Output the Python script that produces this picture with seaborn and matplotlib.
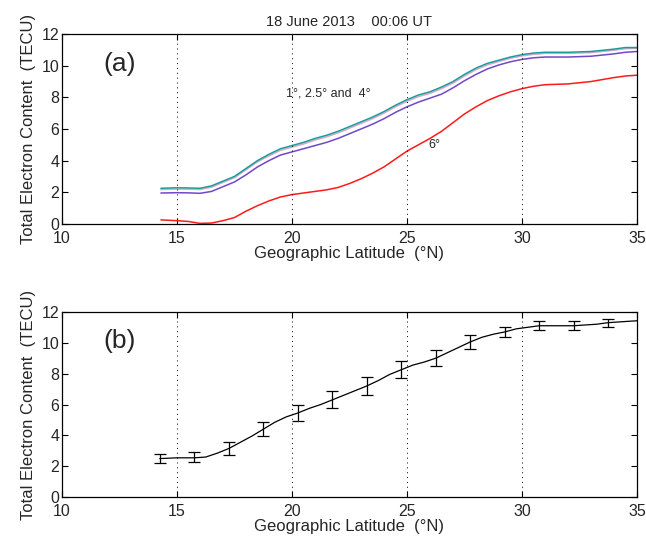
import numpy as np
import pandas as pd
import matplotlib
matplotlib.use('Agg')
import matplotlib.pyplot as plt
import seaborn as sns

# panel (a): TEC along latitude for four elevation cut-offs
lat_a = [14.3, 15.0, 15.5, 16.0, 16.5, 17.0, 17.5, 18.0, 18.5, 19.0, 19.5, 20.0,
         20.5, 21.0, 21.5, 22.0, 22.5, 23.0, 23.5, 24.0, 24.5, 25.0, 25.5, 26.0,
         26.5, 27.0, 27.5, 28.0, 28.5, 29.0, 29.5, 30.0, 30.5, 31.0, 32.0, 33.0,
         34.0, 34.5, 35.0]
tec_1 = [2.25, 2.28, 2.27, 2.25, 2.4, 2.7, 3.0, 3.5, 4.0, 4.4, 4.75, 4.95,
         5.15, 5.4, 5.6, 5.85, 6.15, 6.45, 6.75, 7.1, 7.5, 7.85, 8.15, 8.35,
         8.65, 9.0, 9.45, 9.85, 10.15, 10.35, 10.55, 10.7, 10.8, 10.85, 10.85, 10.9,
         11.05, 11.15, 11.15]
tec_25 = [2.17, 2.2, 2.19, 2.17, 2.32, 2.62, 2.92, 3.42, 3.92, 4.3, 4.65, 4.85,
          5.05, 5.3, 5.5, 5.75, 6.05, 6.35, 6.65, 7.0, 7.4, 7.75, 8.05, 8.25,
          8.55, 8.9, 9.35, 9.75, 10.05, 10.27, 10.47, 10.62, 10.72, 10.78, 10.78, 10.83,
          10.98, 11.08, 11.1]
tec_4 = [1.95, 1.97, 1.96, 1.93, 2.05, 2.35, 2.65, 3.1, 3.6, 4.0, 4.35, 4.55,
         4.75, 4.95, 5.15, 5.4, 5.7, 6.0, 6.3, 6.65, 7.05, 7.4, 7.7, 7.95,
         8.2, 8.6, 9.05, 9.45, 9.8, 10.05, 10.25, 10.4, 10.5, 10.55, 10.55, 10.6,
         10.75, 10.85, 10.9]
tec_6 = [0.25, 0.2, 0.15, 0.03, 0.05, 0.2, 0.4, 0.8, 1.15, 1.45, 1.7, 1.85,
         1.95, 2.05, 2.15, 2.3, 2.55, 2.85, 3.2, 3.6, 4.1, 4.6, 5.0, 5.4,
         5.85, 6.4, 6.95, 7.4, 7.8, 8.1, 8.35, 8.55, 8.7, 8.8, 8.85, 9.0,
         9.25, 9.35, 9.4]

# panel (b): mean TEC with error bars
lat_b = [14.25, 15.0, 15.75, 16.25, 16.75, 17.25, 17.75, 18.25, 18.75, 19.25,
         19.75, 20.25, 20.75, 21.25, 21.75, 22.25, 22.75, 23.25, 23.75, 24.25,
         24.75, 25.25, 25.75, 26.25, 26.75, 27.25, 27.75, 28.25, 28.75, 29.25,
         29.75, 30.25, 30.75, 31.25, 31.75, 32.25, 32.75, 33.25, 33.75, 34.25,
         34.75, 35.0]
tec_b = [2.5, 2.55, 2.55, 2.6, 2.85, 3.15, 3.55, 3.95, 4.4, 4.85,
         5.2, 5.45, 5.75, 6.0, 6.3, 6.6, 6.9, 7.2, 7.55, 7.95,
         8.25, 8.55, 8.75, 9.0, 9.35, 9.7, 10.05, 10.35, 10.55, 10.7,
         10.9, 11.0, 11.1, 11.1, 11.1, 11.1, 11.15, 11.2, 11.3, 11.35,
         11.4, 11.42]
err_lat = [14.25, 15.75, 17.25, 18.75, 20.25, 21.75, 23.25, 24.75, 26.25,
           27.75, 29.25, 30.75, 32.25, 33.75]
err_tec = [2.5, 2.6, 3.15, 4.4, 5.45, 6.3, 7.2, 8.25, 9.0, 10.05, 10.7, 11.1,
           11.1, 11.3]
err_size = [0.3, 0.35, 0.4, 0.45, 0.5, 0.55, 0.6, 0.55, 0.5, 0.45, 0.35, 0.3,
            0.3, 0.25]

sns.set_style("ticks")
plt.rcParams['font.family'] = ['Liberation Sans', 'DejaVu Sans']

df_a = pd.DataFrame({'lat': lat_a * 4,
                     'tec': tec_1 + tec_25 + tec_4 + tec_6,
                     'elev': ['1'] * len(lat_a) + ['2.5'] * len(lat_a)
                             + ['4'] * len(lat_a) + ['6'] * len(lat_a)})
colors = {'1': '#1a9c9c', '2.5': '#d8a8c8', '4': '#7048c8', '6': '#ff1a1a'}

fig = plt.figure(figsize=(6.46, 5.5), dpi=100)
ax1 = fig.add_axes([0.096, 0.593, 0.890, 0.345])
ax2 = fig.add_axes([0.096, 0.096, 0.890, 0.337])

sns.lineplot(data=df_a, x='lat', y='tec', hue='elev', palette=colors,
             hue_order=['2.5', '4', '6', '1'], lw=1.1, legend=False, ax=ax1)

df_b = pd.DataFrame({'lat': lat_b, 'tec': tec_b})
sns.lineplot(data=df_b, x='lat', y='tec', color='black', lw=0.9, ax=ax2)
ax2.errorbar(err_lat, err_tec, yerr=err_size, fmt='none', ecolor='black',
             elinewidth=0.9, capsize=4, capthick=0.9)

for ax, lab in [(ax1, '(a)'), (ax2, '(b)')]:
    ax.set_xlim(10, 35)
    ax.set_ylim(0, 12)
    ax.set_xticks([10, 15, 20, 25, 30, 35])
    ax.set_yticks([0, 2, 4, 6, 8, 10, 12])
    for xv in [15, 20, 25, 30]:
        ax.axvline(xv, color='black', ls=(0, (1, 4)), lw=0.7)
    ax.tick_params(direction='in', length=4, labelsize=11.5, top=True, right=True,
                   color='black')
    ax.tick_params(axis='x', pad=5)
    ax.tick_params(axis='y', pad=2)
    for s in ax.spines.values():
        s.set_linewidth(0.9)
        s.set_color('black')
    ax.set_xlabel('Geographic Latitude  (°N)', fontsize=12, labelpad=0)
    ax.set_ylabel('Total Electron Content  (TECU)', fontsize=12, labelpad=4)
    ax.text(11.8, 10.1, lab, fontsize=19, ha='left', va='center')

ax1.set_title('18 June 2013    00:06 UT', fontsize=10.5, pad=6)
ax1.text(21.6, 8.25, '1°, 2.5° and  4°', fontsize=9, ha='center', va='center')
ax1.text(26.2, 5.0, '6°', fontsize=9, ha='center', va='center')

fig.savefig('out.png', dpi=100)
